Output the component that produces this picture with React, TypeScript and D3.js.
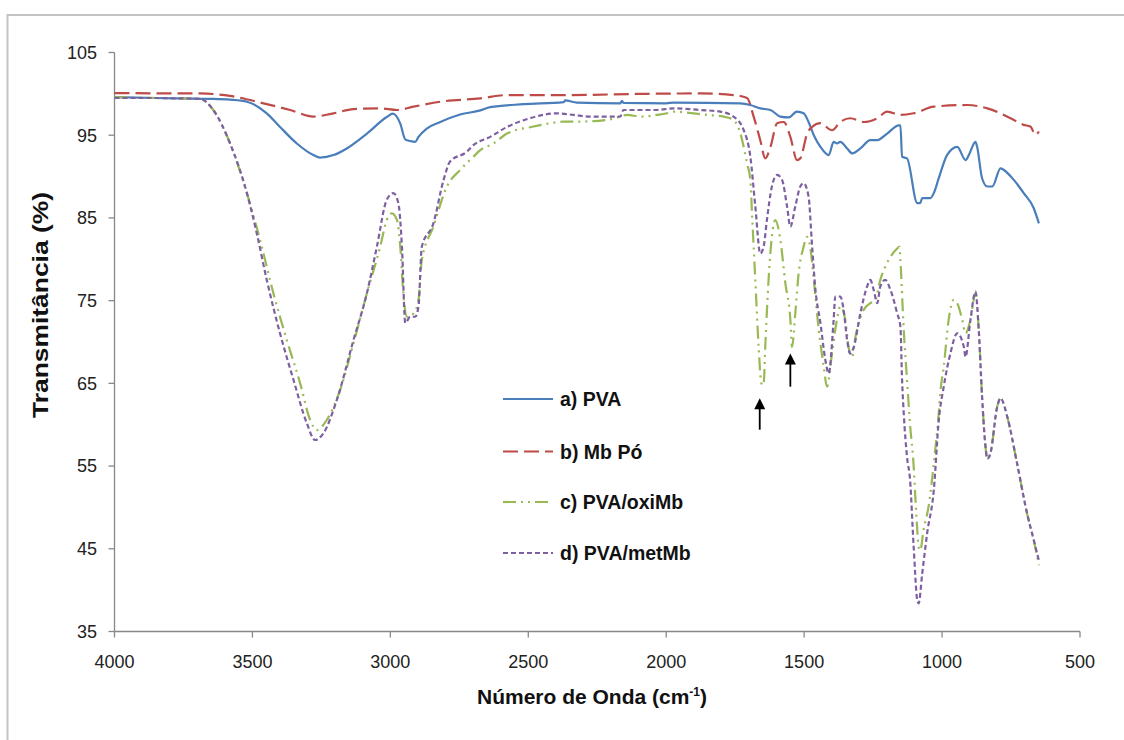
import React from "react";
import * as d3 from "d3";

const yTicks = [35, 45, 55, 65, 75, 85, 95, 105];
const xTicks = [4000, 3500, 3000, 2500, 2000, 1500, 1000, 500];

const seriesNames = ["a) PVA", "b) Mb Pó", "c) PVA/oxiMb", "d) PVA/metMb"];

const pva: [number, number][] = [
  [4000, 99.6], [3850, 99.5], [3762, 99.45], [3650, 99.4], [3581, 99.3], [3520, 99.05], [3448, 97.65], [3400, 96.0],
  [3339, 94.0], [3279, 92.6], [3255, 92.3], [3206, 92.6], [3158, 93.4], [3085, 95.2], [3013, 97.2], [2991, 97.6],
  [2964, 96.4], [2946, 94.5], [2928, 94.3], [2910, 94.2], [2898, 94.8], [2868, 95.8], [2819, 96.6], [2747, 97.5],
  [2674, 98.0], [2638, 98.4], [2517, 98.75], [2372, 99.0], [2366, 99.2], [2324, 98.95], [2167, 98.85], [2160, 99.15],
  [2155, 98.9], [2000, 98.85], [1973, 98.95], [1731, 98.85], [1695, 98.65], [1659, 98.25], [1622, 98.05], [1586, 97.25],
  [1556, 97.15], [1526, 97.85], [1502, 97.65], [1484, 96.6], [1465, 95.0], [1441, 93.6], [1411, 92.6], [1393, 94.2],
  [1381, 94.0], [1369, 94.2], [1344, 93.4], [1326, 92.8], [1296, 93.4], [1260, 94.4], [1235, 94.4], [1199, 95.2],
  [1157, 96.2], [1151, 96.2], [1145, 92.4], [1127, 92.2], [1090, 86.8], [1079, 86.8], [1072, 87.4], [1042, 87.4],
  [1030, 88.0], [1012, 89.8], [982, 92.6], [945, 93.6], [915, 92.0], [903, 92.6], [879, 94.2], [873, 93.6],
  [855, 89.8], [836, 88.8], [818, 88.8], [788, 91.0], [776, 90.8], [740, 89.6], [704, 88.0], [668, 86.2], [649, 84.35],
];

const mbPo: [number, number][] = [
  [4000, 100.1], [3762, 100.05], [3690, 100.05], [3581, 99.75], [3460, 98.85], [3363, 98.05], [3279, 97.25], [3206, 97.65],
  [3134, 98.15], [3037, 98.25], [2976, 98.05], [2916, 98.45], [2819, 99.05], [2674, 99.45], [2577, 99.85], [2360, 99.85],
  [2094, 100.0], [1876, 100.05], [1756, 99.85], [1707, 99.5], [1683, 97.25], [1659, 94.4], [1641, 92.2], [1622, 93.6],
  [1598, 96.45], [1574, 96.6], [1550, 94.8], [1526, 92.0], [1514, 92.2], [1489, 95.2], [1471, 96.0], [1441, 96.45],
  [1399, 95.6], [1369, 96.6], [1333, 97.05], [1284, 96.6], [1235, 97.05], [1199, 97.85], [1151, 97.45], [1103, 97.65],
  [1030, 98.45], [909, 98.65], [836, 98.25], [752, 97.05], [704, 96.25], [680, 96.05], [661, 95.05], [649, 95.45],
];

const oxiMb: [number, number][] = [
  [4000, 99.6], [3850, 99.5], [3762, 99.45], [3690, 99.4], [3642, 98.05], [3581, 94.0], [3520, 88.0], [3472, 82.3],
  [3424, 75.9], [3375, 70.2], [3327, 65.0], [3291, 60.6], [3267, 59.35], [3230, 60.6], [3182, 64.2], [3134, 69.8],
  [3085, 75.9], [3037, 81.5], [3013, 84.75], [2995, 85.55], [2976, 84.75], [2964, 81.5], [2953, 75.9], [2940, 73.05],
  [2916, 73.45], [2898, 75.1], [2886, 79.9], [2844, 83.95], [2795, 88.8], [2747, 90.8], [2699, 92.4], [2674, 93.2],
  [2626, 94.0], [2577, 95.2], [2481, 96.05], [2420, 96.45], [2372, 96.65], [2312, 96.65], [2215, 96.85], [2167, 97.25],
  [2142, 97.45], [2094, 97.25], [2034, 97.45], [1997, 97.65], [1973, 97.85], [1901, 97.65], [1852, 97.45], [1792, 97.25],
  [1756, 96.85], [1731, 95.2], [1707, 91.6], [1695, 89.6], [1689, 85.55], [1677, 77.5], [1665, 69.4], [1655, 65.0],
  [1647, 64.8], [1641, 69.4], [1629, 77.5], [1617, 82.7], [1605, 84.75], [1586, 82.3], [1568, 77.1], [1550, 72.7],
  [1544, 69.4], [1532, 73.5], [1520, 78.3], [1502, 81.5], [1490, 82.7], [1478, 81.5], [1465, 77.5], [1447, 71.45],
  [1429, 67.0], [1417, 64.6], [1399, 68.6], [1381, 72.7], [1369, 74.3], [1351, 72.7], [1339, 69.4], [1326, 68.2],
  [1314, 70.6], [1284, 73.9], [1260, 74.7], [1242, 75.1], [1224, 77.5], [1206, 79.1], [1187, 80.3], [1163, 81.3],
  [1154, 81.5], [1151, 79.9], [1139, 71.5], [1127, 65.4], [1116, 60.0], [1103, 55.0], [1097, 51.3], [1090, 47.3],
  [1085, 45.2], [1079, 44.8], [1067, 47.3], [1049, 50.1], [1030, 55.3], [1012, 61.4], [1006, 64.0], [994, 67.0],
  [976, 72.7], [958, 75.1], [945, 74.7], [927, 72.7], [915, 71.05], [897, 72.7], [879, 75.9], [867, 71.45],
  [855, 63.4], [843, 57.5], [836, 55.9], [825, 56.5], [800, 62.2], [788, 63.2], [764, 61.0], [728, 55.3],
  [692, 49.3], [668, 46.1], [649, 43.0],
];

const metMb: [number, number][] = [
  [4000, 99.5], [3850, 99.5], [3762, 99.45], [3690, 99.4], [3642, 98.05], [3581, 94.0], [3520, 88.0], [3484, 83.1],
  [3448, 77.5], [3400, 71.05], [3351, 65.4], [3303, 60.2], [3273, 58.15], [3243, 58.95], [3194, 63.0], [3134, 70.2],
  [3085, 75.9], [3049, 81.5], [3013, 87.2], [2989, 88.0], [2971, 86.8], [2958, 81.5], [2946, 72.3], [2928, 73.05],
  [2910, 73.05], [2898, 74.3], [2886, 81.5], [2844, 84.35], [2807, 89.6], [2784, 91.8], [2723, 93.0], [2699, 93.8],
  [2638, 94.8], [2577, 96.0], [2494, 97.05], [2396, 97.65], [2336, 97.45], [2276, 97.25], [2167, 97.25], [2155, 98.05],
  [2034, 98.05], [1973, 98.25], [1876, 98.05], [1804, 97.85], [1756, 97.25], [1719, 95.6], [1695, 92.4], [1677, 86.4],
  [1659, 80.7], [1647, 81.5], [1635, 84.75], [1617, 88.8], [1598, 90.2], [1580, 89.6], [1562, 86.4], [1550, 83.95],
  [1532, 86.4], [1514, 88.8], [1502, 89.2], [1484, 87.6], [1471, 81.5], [1459, 76.3], [1441, 72.3], [1423, 67.8],
  [1411, 66.2], [1393, 72.7], [1387, 75.5], [1369, 75.5], [1357, 73.9], [1344, 70.2], [1333, 68.6], [1320, 69.4],
  [1296, 73.5], [1272, 76.7], [1260, 77.5], [1248, 76.3], [1235, 74.7], [1224, 76.7], [1206, 77.5], [1187, 76.3],
  [1163, 73.5], [1151, 71.85], [1145, 65.4], [1139, 61.4], [1127, 56.1], [1116, 53.3], [1103, 45.25], [1090, 38.8],
  [1085, 38.4], [1072, 42.0], [1054, 46.9], [1030, 52.1], [1012, 60.5], [994, 64.6], [970, 68.6], [945, 71.05],
  [921, 69.4], [915, 68.2], [897, 72.7], [879, 76.1], [867, 71.45], [855, 63.4], [843, 57.5], [836, 55.9],
  [825, 56.5], [800, 62.2], [788, 63.2], [764, 61.0], [728, 55.3], [692, 49.3], [668, 46.1], [649, 43.6],
];

// arrows: [wavenumber, tail value, head value]
const arrows: [number, number, number][] = [
  [1661, 59.4, 63.2],
  [1550, 64.6, 68.6],
];

const colors = ["#4a7ebb", "#be4b48", "#98b954", "#7d60a0"];
const dashes = ["none", "15,6", "13,5,2,5,2,5", "5,3"];

export default function App() {
  const W = 1124, H = 740;
  const x = d3.scaleLinear().domain([4000, 500]).range([114.5, 1080]);
  const y = d3.scaleLinear().domain([35, 105]).range([631.5, 52.5]);
  const line = d3
    .line<[number, number]>()
    .x((d) => x(d[0]))
    .y((d) => y(d[1]))
    .curve(d3.curveMonotoneX);
  const all = [pva, mbPo, oxiMb, metMb].map((s) =>
    [...s].sort((a, b) => b[0] - a[0])
  );
  const tickFont = "'Liberation Sans', Arial, sans-serif";
  const axisColor = "#888888";
  const legendX = 503;
  const legendY = [399, 451.5, 502, 553];

  return (
    <svg
      width={W}
      height={H}
      style={{ position: "absolute", left: 0, top: 0, background: "#fff" }}
    >
      <rect x={7.5} y={15} width={1140} height={760} fill="#fff" stroke="#c4c4c4" strokeWidth={2} />
      {/* axes */}
      <line x1={x(4000)} x2={x(4000)} y1={y(35)} y2={y(105)} stroke={axisColor} strokeWidth={1.3} />
      <line x1={x(4000)} x2={x(500)} y1={y(35)} y2={y(35)} stroke={axisColor} strokeWidth={1.3} />
      {yTicks.map((t) => (
        <g key={"y" + t}>
          <line x1={x(4000) - 6} x2={x(4000)} y1={y(t)} y2={y(t)} stroke={axisColor} strokeWidth={1.3} />
          <text
            x={97}
            y={y(t)}
            dy="0.35em"
            textAnchor="end"
            fontFamily={tickFont}
            fontSize={18}
            fill="#222"
          >
            {t}
          </text>
        </g>
      ))}
      {xTicks.map((t) => (
        <g key={"x" + t}>
          <line x1={x(t)} x2={x(t)} y1={y(35)} y2={y(35) + 6} stroke={axisColor} strokeWidth={1.3} />
          <text
            x={x(t)}
            y={668}
            textAnchor="middle"
            fontFamily={tickFont}
            fontSize={18}
            fill="#222"
          >
            {t}
          </text>
        </g>
      ))}
      {/* axis titles */}
      <text
        transform={`translate(48, 418) rotate(-90)`}
        fontFamily={tickFont}
        fontWeight="bold"
        fontSize={22}
        textLength={226}
        lengthAdjust="spacingAndGlyphs"
        fill="#111"
      >
        Transmitância (%)
      </text>
      <text
        x={592}
        y={704}
        textAnchor="middle"
        fontFamily={tickFont}
        fontWeight="bold"
        fontSize={21}
        fill="#111"
      >
        Número de Onda (cm
        <tspan dy={-8} fontSize={12}>-1</tspan>
        <tspan dy={8}>)</tspan>
      </text>
      {/* series */}
      {all.map((s, i) => (
        <path
          key={"s" + i}
          d={line(s) || ""}
          fill="none"
          stroke={colors[i]}
          strokeWidth={2.2}
          strokeDasharray={dashes[i]}
          strokeLinejoin="round"
        />
      ))}
      {/* arrows */}
      {arrows.map((a, i) => (
        <g key={"a" + i}>
          <line x1={x(a[0])} x2={x(a[0])} y1={y(a[1])} y2={y(a[2]) + 8} stroke="#000" strokeWidth={1.8} />
          <path
            d={`M${x(a[0])},${y(a[2])} L${x(a[0]) - 5.5},${y(a[2]) + 11} L${x(a[0]) + 5.5},${y(a[2]) + 11} Z`}
            fill="#000"
          />
        </g>
      ))}
      {/* legend */}
      {seriesNames.map((n, i) => (
        <g key={"l" + i}>
          <line
            x1={legendX}
            x2={legendX + 50}
            y1={legendY[i]}
            y2={legendY[i]}
            stroke={colors[i]}
            strokeWidth={2.2}
            strokeDasharray={dashes[i]}
          />
          <text
            x={legendX + 57}
            y={legendY[i]}
            dy="0.36em"
            fontFamily={tickFont}
            fontWeight="bold"
            fontSize={19.5}
            fill="#111"
          >
            {n}
          </text>
        </g>
      ))}
    </svg>
  );
}
